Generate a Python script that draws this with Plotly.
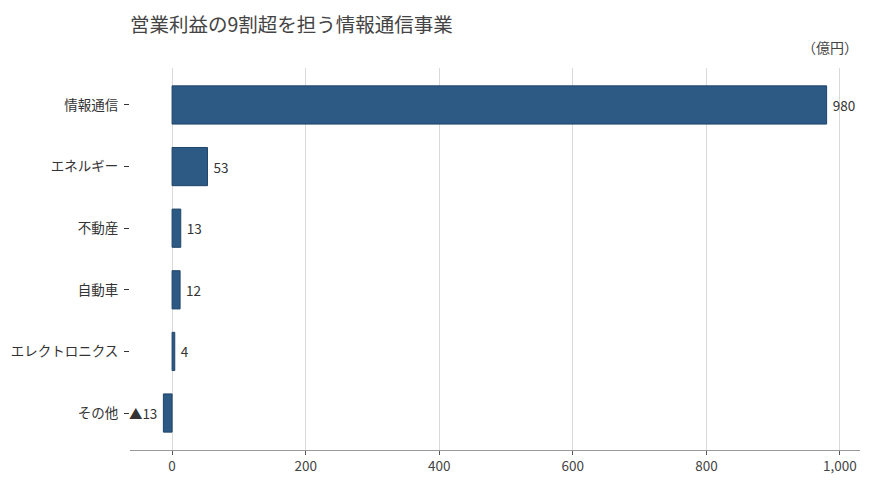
import plotly.graph_objects as go

# 営業利益（億円）
categories = ["情報通信", "エネルギー", "不動産", "自動車", "エレクトロニクス", "その他"]
values = [980, 53, 13, 12, 4, -13]
labels = ["980", "53", "13", "12", "4", "▲13"]
x_ticks = [0, 200, 400, 600, 800, 1000]

font_family = "Noto Sans CJK JP"
bar_color = "#2c5a85"

# leave a little gap between the bar end and its label
templates = [" %{text}" if v >= 0 else "%{text} " for v in values]

fig = go.Figure(go.Bar(
    x=values,
    y=categories,
    orientation="h",
    text=labels,
    texttemplate=templates,
    textposition="outside",
    textfont=dict(size=13.5, color="#333333"),
    marker=dict(color=bar_color, line=dict(color="#1f4468", width=1)),
    width=0.62,
    cliponaxis=False,
))

# the page body adds an 8px offset, so margins are trimmed by that much
fig.update_layout(
    width=870,
    height=484,
    margin=dict(l=122, r=18, t=60, b=42, autoexpand=False),
    plot_bgcolor="white",
    paper_bgcolor="white",
    font=dict(family=font_family, size=13.5, color="#333333"),
    showlegend=False,
    title=dict(
        text="営業利益の9割超を担う情報通信事業",
        x=122 / 870, xanchor="left",
        y=0.965, yanchor="middle",
        font=dict(size=19.5, color="#444444"),
    ),
    annotations=[dict(
        text="（億円）",
        xref="paper", yref="paper",
        x=1.0, y=1.0, xanchor="right", yanchor="bottom",
        xshift=0, yshift=9, showarrow=False,
        font=dict(size=14, color="#444444"),
    )],
)

fig.update_xaxes(
    automargin=False,
    range=[-63, 1030],
    tickvals=x_ticks,
    tickformat=",",
    showgrid=True,
    gridcolor="#d9d9d9",
    zeroline=False,
    showline=True,
    linecolor="#999999",
    ticks="outside",
    ticklen=4,
    tickcolor="#555555",
    tickfont=dict(size=13.5, color="#444444"),
)

fig.update_yaxes(
    automargin=False,
    categoryorder="array",
    categoryarray=categories,
    autorange=False,
    range=[5.6, -0.6],
    showgrid=False,
    showline=False,
    ticks="outside",
    ticklen=5,
    tickcolor="#333333",
    ticklabelstandoff=3,
    tickfont=dict(size=13.5, color="#333333"),
)

fig.write_html("out.html")
